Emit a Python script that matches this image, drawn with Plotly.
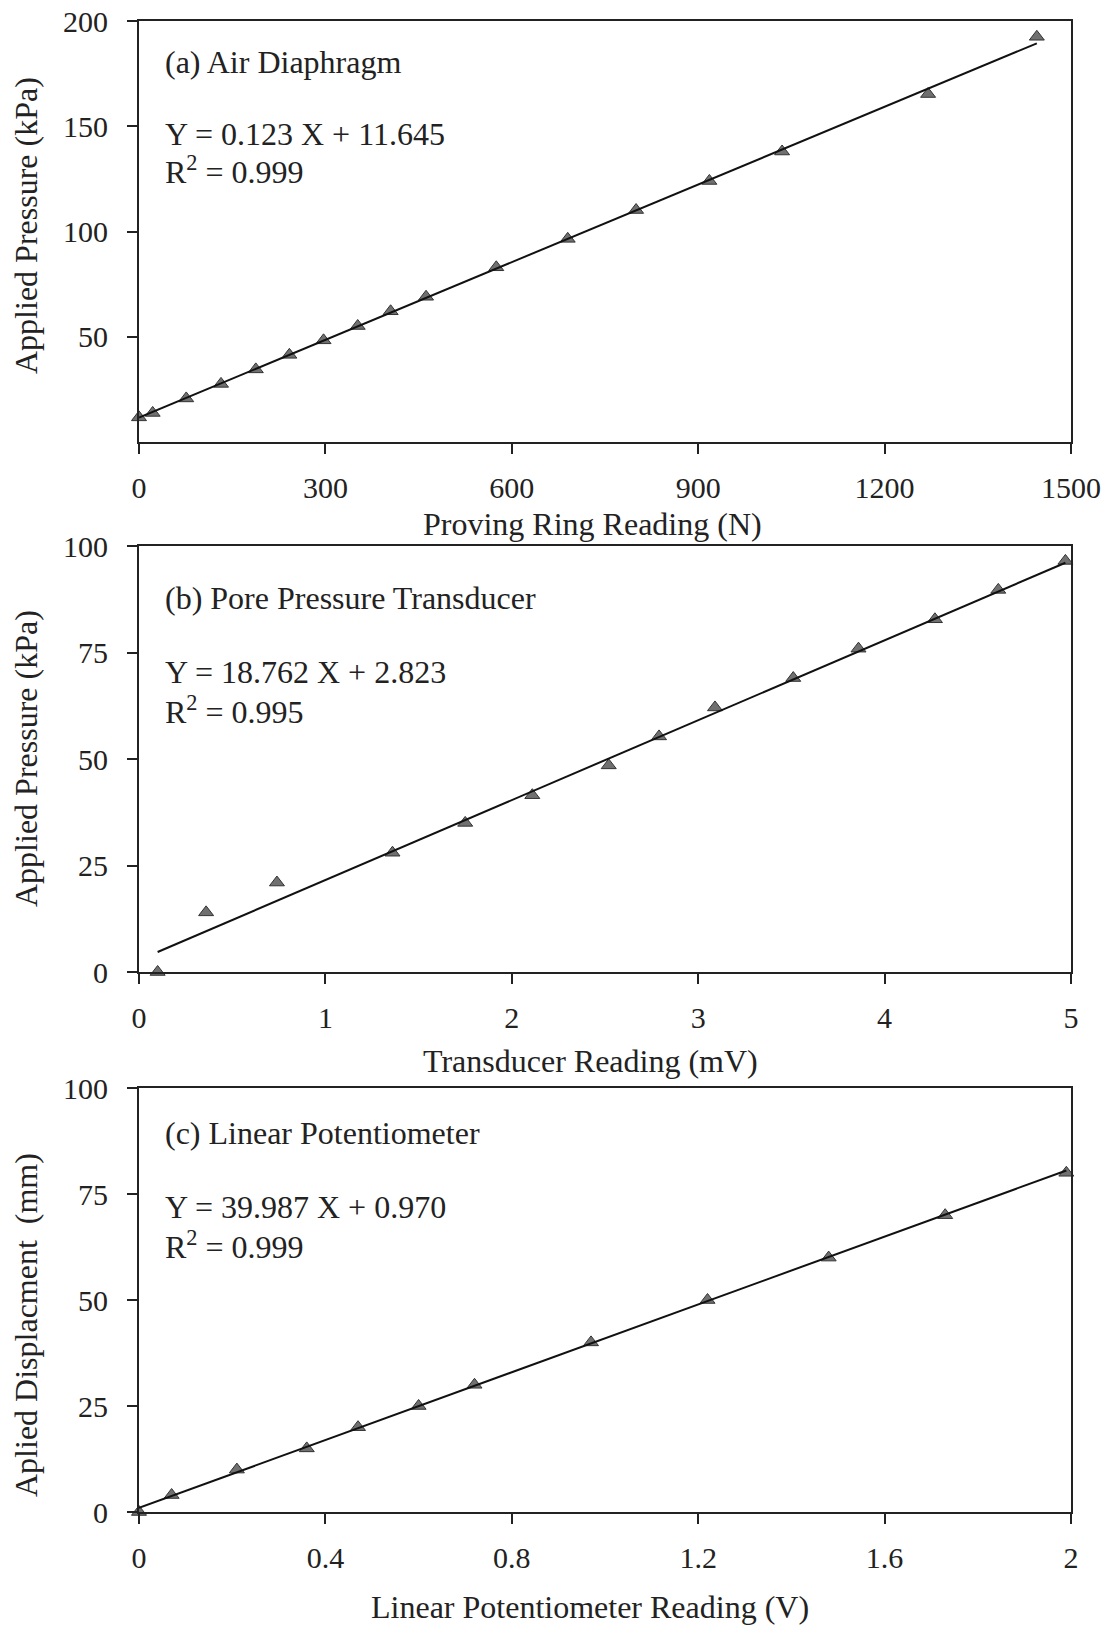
import plotly.graph_objects as go

W, H = 1108, 1628

# ---------------- data ----------------
# (a) Air Diaphragm
proving_ring_N = [0, 22, 76, 132, 188, 242, 297, 352, 405, 462, 575, 690, 800, 918, 1035, 1270, 1445]
pressure_a_kPa = [11.7, 13.8, 20.7, 27.6, 34.5, 41.4, 48.3, 55.1, 62.1, 69.0, 83.0, 96.5, 110.2, 124.0, 138.0, 165.3, 192.5]
fit_a = (0.123, 11.645)

# (b) Pore Pressure Transducer
transducer_mV = [0.10, 0.36, 0.74, 1.36, 1.75, 2.11, 2.52, 2.79, 3.09, 3.51, 3.86, 4.27, 4.61, 4.97]
pressure_b_kPa = [0.0, 14.0, 21.0, 28.0, 35.0, 41.5, 48.5, 55.3, 62.1, 69.0, 75.9, 82.8, 89.7, 96.5]
fit_b = (18.762, 2.823)

# (c) Linear Potentiometer
potentiometer_V = [0.0, 0.07, 0.21, 0.36, 0.47, 0.60, 0.72, 0.97, 1.22, 1.48, 1.73, 1.99]
displacement_mm = [0, 4, 10, 15, 20, 25, 30, 40, 50, 60, 70, 80]
fit_c = (39.987, 0.970)

# tick labels
xticks_a = [0, 300, 600, 900, 1200, 1500]
yticks_a = [50, 100, 150, 200]
xticks_b = [0, 1, 2, 3, 4, 5]
yticks_b = [0, 25, 50, 75, 100]
xticks_c = [0, 0.4, 0.8, 1.2, 1.6, 2]
xticklabels_c = ["0", "0.4", "0.8", "1.2", "1.6", "2"]
yticks_c = [0, 25, 50, 75, 100]

# ---------------- layout helpers ----------------
FONT = "Liberation Serif, Times New Roman, serif"
INK = "#222222"
def px(x):
    return x / W
def py(y):
    return 1 - y / H

left, right = 139, 1071
panels = [(21, 442), (546, 972), (1088, 1512)]

fig = go.Figure()

def add_panel(i, xs, ys, fit, xr, yr, xt, xtl, yt):
    suffix = "" if i == 1 else str(i)
    xa, ya = "x" + suffix, "y" + suffix
    fig.add_trace(go.Scatter(
        x=xs, y=ys, mode="markers", xaxis=xa, yaxis=ya,
        marker=dict(symbol="triangle-up", size=13, color="#707070",
                    line=dict(color="#333333", width=1)),
        showlegend=False, hoverinfo="x+y", cliponaxis=False))
    x0, x1 = min(xs), max(xs)
    m, b = fit
    fig.add_trace(go.Scatter(
        x=[x0, x1], y=[m * x0 + b, m * x1 + b], mode="lines",
        xaxis=xa, yaxis=ya, line=dict(color="#111111", width=2),
        showlegend=False, hoverinfo="skip"))
    top, bot = panels[i - 1]
    axis_common = dict(showgrid=False, zeroline=False, showline=True,
                       linecolor=INK, linewidth=2, mirror=True,
                       ticks="outside", tickcolor=INK, tickwidth=1.5,
                       automargin=False,
                       tickfont=dict(family=FONT, size=30, color=INK))
    fig.update_layout(**{
        "xaxis" + suffix: dict(domain=[px(left), px(right)], anchor=ya,
                               range=xr, tickvals=xt, ticktext=xtl,
                               ticklen=10, ticklabelstandoff=8, **axis_common),
        "yaxis" + suffix: dict(domain=[py(bot), py(top)], anchor=xa,
                               range=yr, tickvals=yt,
                               ticklen=10, ticklabelstandoff=13, **axis_common),
    })

add_panel(1, proving_ring_N, pressure_a_kPa, fit_a, [0, 1500], [0, 200],
          xticks_a, [str(v) for v in xticks_a], yticks_a)
add_panel(2, transducer_mV, pressure_b_kPa, fit_b, [0, 5], [0, 100],
          xticks_b, [str(v) for v in xticks_b], yticks_b)
add_panel(3, potentiometer_V, displacement_mm, fit_c, [0, 2], [0, 100],
          xticks_c, xticklabels_c, yticks_c)

ann = []
def text(x, y, s, size=32, xanchor="left", angle=0):
    ann.append(dict(x=px(x), y=py(y), xref="paper", yref="paper", text=s,
                    showarrow=False, xanchor=xanchor, yanchor="middle",
                    textangle=angle,
                    font=dict(family=FONT, size=size, color=INK)))

# panel texts
text(163, 62, "(a) Air Diaphragm")
text(163, 134, "Y = 0.123 X + 11.645")
text(163, 170, "R<sup>2</sup> = 0.999")
text(163, 598, "(b) Pore Pressure Transducer")
text(163, 672, "Y = 18.762 X + 2.823")
text(163, 710, "R<sup>2</sup> = 0.995")
text(163, 1133, "(c) Linear Potentiometer")
text(163, 1207, "Y = 39.987 X + 0.970")
text(163, 1245, "R<sup>2</sup> = 0.999")

# axis titles
text(592, 524, "Proving Ring Reading (N)", xanchor="center")
text(590, 1061, "Transducer Reading (mV)", xanchor="center")
text(590, 1607, "Linear Potentiometer Reading (V)", xanchor="center")
text(26, 226, "Applied Pressure (kPa)", xanchor="center", angle=-90)
text(26, 759, "Applied Pressure (kPa)", xanchor="center", angle=-90)
text(26, 1325, "Aplied Displacment  (mm)", xanchor="center", angle=-90)

fig.update_layout(width=W, height=H, margin=dict(l=0, r=0, t=0, b=0),
                  paper_bgcolor="white", plot_bgcolor="white",
                  annotations=ann, showlegend=False)

fig.write_html("out.html")
